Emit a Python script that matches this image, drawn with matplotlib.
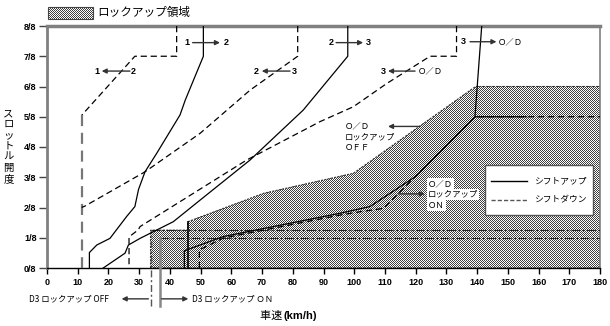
import numpy as np
import matplotlib
matplotlib.use("Agg")
import matplotlib.pyplot as plt
from matplotlib.patches import Polygon, Rectangle
from matplotlib.path import Path

plt.rcParams['font.family'] = ['Noto Sans CJK JP', 'DejaVu Sans']
NUM_FONT = ['Liberation Sans', 'DejaVu Sans']

# ---- shift schedule data: vehicle speed (km/h) vs throttle opening (eighths) ----
up12_x = [50.9, 50.9, 45.0, 43.3, 35.7, 31.9, 29.8, 28.6, 25.9, 20.5, 16.2, 13.8, 13.8]
up12_y = [8.0, 7.0, 5.55, 5.06, 3.79, 3.18, 2.6, 2.03, 1.70, 0.98, 0.76, 0.51, 0.0]

dn21_x = [42.2, 42.2, 28.6, 11.3, 11.3]
dn21_y = [8.0, 7.0, 7.0, 5.05, 0.0]

up23_x = [97.9, 97.9, 83.4, 66.1, 49.9, 41.1, 30.3, 26.5, 25.4, 18.3]
up23_y = [8.0, 7.0, 5.22, 3.57, 2.25, 1.53, 0.98, 0.76, 0.49, 0.0]

dn32_x = [81.6, 81.6, 66.1, 49.8, 31.9, 12.4, 11.3]
dn32_y = [8.0, 7.0, 5.88, 4.45, 3.18, 2.05, 2.0]

up3od_x = [141.5, 139.3]
up3od_y = [8.0, 5.0]

dnod3_x = [133.3, 133.3, 124.7, 110.6, 99.7, 88.9, 65.0, 44.2, 30.3, 29.7, 26.7, 26.7]
dnod3_y = [8.0, 7.0, 7.0, 6.1, 5.33, 4.84, 3.57, 2.25, 1.37, 1.26, 1.03, 0.0]

# O/D lock-up ON engagement / release
lu_on_up_x = [44.7, 44.7, 57.4, 95.4, 105.1, 120.2, 139.3, 156.0]
lu_on_up_y = [0.0, 0.57, 1.04, 1.81, 2.03, 3.04, 5.0, 5.0]
lu_on_dn_x = [49.6, 49.6, 57.4, 95.4, 101.9, 109.5, 120.3, 139.3, 180.0]
lu_on_dn_y = [0.0, 0.60, 0.99, 1.75, 1.86, 1.97, 3.07, 5.0, 5.0]

# lock-up region outline
lock_x = [33.7, 33.7, 45.8, 45.8, 70.5, 99.7, 139.5, 180.0, 180.0]
lock_y = [0.0, 1.25, 1.25, 1.53, 2.47, 3.13, 6.0, 6.0, 0.0]

# D3 lock-up limits
d3_off_speed = 33.7
d3_on_speed = 36.8
d3_off_level = 1.25
d3_on_level = 1.0

x_ticks = list(range(0, 181, 10))
y_ticks = list(range(0, 9))
y_labels = [f"{k}/8" for k in y_ticks]

W, H = 610, 326
fig = plt.figure(figsize=(W / 100, H / 100), dpi=100)
L, B, R, T = 47, 268, 600, 26
ax = fig.add_axes([L / W, 1 - B / H, (R - L) / W, (B - T) / H])
ax.set_xlim(0, 180)
ax.set_ylim(0, 8)
ax.set_zorder(1)
ax.patch.set_alpha(0)

# region outline
poly = Polygon(list(zip(lock_x, lock_y)), closed=True, facecolor='none',
               edgecolor='#333333', lw=0.8, linestyle=(0, (2, 1)), zorder=2)
ax.add_patch(poly)

# pixel-exact dot screen for the lock-up region and its key swatch
SW_BOX = (48, 7, 93, 19)  # left, top, right, bottom in pixels
disp = ax.transData.transform(np.column_stack([lock_x, lock_y]))
jj, ii = np.meshgrid(np.arange(W), np.arange(H))
pts = np.column_stack([(jj + 0.5).ravel(), (H - ii - 0.5).ravel()])
inside = Path(disp).contains_points(pts).reshape(H, W)
inside |= (jj >= SW_BOX[0]) & (jj < SW_BOX[2]) & (ii >= SW_BOX[1]) & (ii < SW_BOX[3])
dots = ((ii + jj) % 2 == 0)
screen = np.ones((H, W, 4))
screen[dots, :3] = 0.25
screen[..., 3] = inside.astype(float)
fig.figimage(screen, xo=0, yo=0, origin='upper', zorder=0)
fig.add_artist(Rectangle((SW_BOX[0] / W, 1 - SW_BOX[3] / H),
                         (SW_BOX[2] - SW_BOX[0]) / W, (SW_BOX[3] - SW_BOX[1]) / H,
                         transform=fig.transFigure, fill=False,
                         edgecolor='#444444', lw=0.8))

# region edges
ax.plot([45.8, 45.8], [0, 1.53], color='black', lw=1.2, zorder=3)
ax.plot([d3_off_speed, 180], [d3_off_level, d3_off_level], color='#222222', lw=0.8,
        linestyle=(0, (8, 2, 2, 2)), zorder=3)
ax.plot([d3_on_speed, 180], [d3_on_level, d3_on_level], color='#222222', lw=0.8,
        linestyle=(0, (8, 2, 2, 2)), zorder=3)
ax.plot([d3_off_speed, d3_off_speed], [-1.26, d3_off_level], color='#555555', lw=1.0,
        linestyle=(0, (5, 2, 1.5, 2)), clip_on=False, zorder=3)
ax.plot([d3_on_speed, d3_on_speed], [-1.26, d3_on_level], color='#888888', lw=1.8,
        clip_on=False, zorder=3)

solid = dict(color='black', lw=0.9, zorder=4)
dashed = dict(color='black', lw=0.9, linestyle=(0, (5, 3)), zorder=4)

ax.plot(up12_x, up12_y, **solid)
ax.plot(dn21_x[:4], dn21_y[:4], **dashed)
ax.plot(dn21_x[3:], dn21_y[3:], color='#777777', lw=1.6, linestyle=(0, (5, 3)), zorder=4)
ax.plot(up23_x, up23_y, **solid)
ax.plot(dn32_x, dn32_y, **dashed)
ax.plot(up3od_x, up3od_y, **solid)
ax.plot(dnod3_x, dnod3_y, **dashed)
ax.plot(lu_on_up_x, lu_on_up_y, **solid)
ax.plot(lu_on_dn_x, lu_on_dn_y, **dashed)

# axes styling
for side in ('left', 'top', 'right'):
    ax.spines[side].set_color('#808080')
ax.spines['left'].set_linewidth(2.0)
ax.spines['top'].set_linewidth(2.5)
ax.spines['right'].set_linewidth(1.2)
ax.spines['bottom'].set_color('black')
ax.spines['bottom'].set_linewidth(1.0)
ax.set_xticks(x_ticks)
ax.set_yticks(y_ticks)
ax.set_yticklabels(y_labels)
ax.tick_params(axis='y', direction='out', length=6, width=1, pad=1.5, color='#444444')
ax.tick_params(axis='x', direction='out', length=4.5, width=1, pad=3, color='black')
for lab in ax.get_xticklabels() + ax.get_yticklabels():
    lab.set_fontfamily(NUM_FONT)
    lab.set_fontweight('bold')
    lab.set_fontsize(6.5)

arrow = dict(arrowstyle='-|>', color='#333333', lw=1.0, mutation_scale=7,
             shrinkA=0, shrinkB=0)
numtxt = dict(fontfamily=NUM_FONT, fontweight='bold', fontsize=6.5,
              ha='center', va='center', zorder=6)


def gear_label(x0, x1, y, left, right, a_from, a_to, jp_right=False):
    ax.text(x0, y, left, **numtxt)
    if jp_right:
        ax.text(x1, y, right, ha='left', va='center', fontsize=6, zorder=6)
    else:
        ax.text(x1, y, right, **numtxt)
    ax.annotate('', xy=(a_to, y), xytext=(a_from, y), arrowprops=arrow, zorder=6)


gear_label(45.5, 58.5, 7.45, '1', '2', 47.4, 56.3)
gear_label(16.2, 28.1, 6.51, '1', '2', 27.0, 17.8)
gear_label(92.4, 104.6, 7.45, '2', '3', 94.1, 102.9)
gear_label(68.0, 80.5, 6.51, '2', '3', 79.1, 69.9)
gear_label(109.5, 120.8, 6.51, '3', 'Ｏ／Ｄ', 119.8, 111.0, jp_right=True)
gear_label(135.5, 146.8, 7.48, '3', 'Ｏ／Ｄ', 137.7, 146.3, jp_right=True)

# lock-up annotations
lab = dict(fontsize=6, ha='left', va='center', zorder=6)
ax.text(97.0, 4.70, 'Ｏ／Ｄ', **lab)
ax.text(97.0, 4.34, 'ロックアップ', **lab)
ax.text(97.0, 3.98, 'ＯＦＦ', **lab)
ax.annotate('', xy=(111.0, 4.68), xytext=(121.4, 4.68), arrowprops=arrow, zorder=6)

wb = dict(facecolor='white', edgecolor='none', pad=0.6)
ax.text(124.0, 2.80, 'Ｏ／Ｄ', bbox=wb, **lab)
ax.text(124.0, 2.44, 'ロックアップ', bbox=wb, **lab)
ax.text(124.0, 2.06, 'ＯＮ', bbox=wb, **lab)
ax.annotate('', xy=(123.0, 2.45), xytext=(114.3, 2.45), arrowprops=arrow, zorder=6)

ax.text(-5.9, -1.02, 'D3 ロックアップ OFF', fontsize=6, ha='left', va='center',
        clip_on=False)
ax.annotate('', xy=(24.3, -1.02), xytext=(33.0, -1.02), arrowprops=arrow,
            annotation_clip=False)
ax.annotate('', xy=(46.0, -1.02), xytext=(37.3, -1.02), arrowprops=arrow,
            annotation_clip=False)
ax.text(47.1, -1.02, 'D3 ロックアップ ＯＮ', fontsize=6, ha='left', va='center',
        clip_on=False)

# legend box for line styles
lx0, lx1 = 142.5, 177.8
ly0, ly1 = 1.74, 3.40
ax.add_patch(Rectangle((lx0, ly0), lx1 - lx0, ly1 - ly0, facecolor='white',
                       edgecolor='#555555', lw=1.0, zorder=5))
ax.plot([144.6, 156.1], [2.88, 2.88], color='black', lw=1.0, zorder=6)
ax.plot([144.6, 156.1], [2.25, 2.25], color='#555555', lw=1.0,
        linestyle=(0, (3, 1.5)), zorder=6)
ax.text(158.7, 2.88, 'シフトアップ', fontsize=6.3, ha='left', va='center', zorder=6)
ax.text(158.7, 2.25, 'シフトダウン', fontsize=6.3, ha='left', va='center', zorder=6)

fig.text(97 / W, 1 - 12.5 / H, 'ロックアップ領域', fontsize=8.4, ha='left', va='center')

# axis titles
fig.text(8.5 / W, 1 - 146 / H, '\n'.join('スロットル開度'), fontsize=7.5,
         ha='center', va='center', linespacing=1.12)
fig.text(260 / W, 1 - 316 / H, '車速 ', fontsize=8, ha='left', va='center')
fig.text(283 / W, 1 - 316 / H, '(km/h)', fontsize=8, fontweight='bold',
         fontfamily=NUM_FONT, ha='left', va='center')

fig.savefig('out.png', dpi=100)
